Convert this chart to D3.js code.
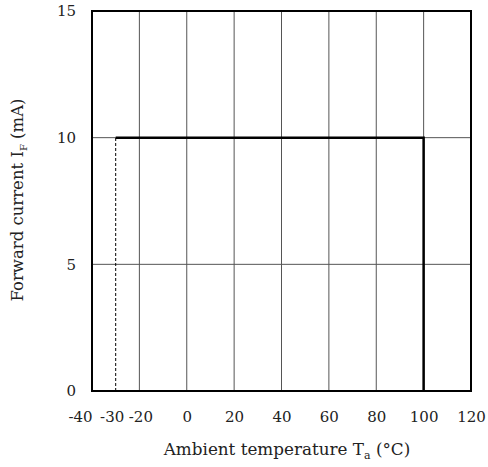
<!DOCTYPE html>
<html><head><meta charset="utf-8">
<script src="https://cdn.jsdelivr.net/npm/d3@7"></script>
<style>body{margin:0;background:#fff}svg{display:block}text{font-family:"DejaVu Serif","Liberation Serif",serif;fill:#222}</style>
</head><body><svg id="c" width="488" height="467"></svg>
<script>
const xTicks = [-40, -30, -20, 0, 20, 40, 60, 80, 100, 120];
const xGrid = [-20, 0, 20, 40, 60, 80, 100];
const yTicks = [0, 5, 10, 15];
const yGrid = [5, 10];
const ratingT = [-30, 100, 100];
const ratingI = [10, 10, 0];
const dashedT = [-30, -30];
const dashedI = [0, 10];

const svg = d3.select("#c");
const L = 92, R = 471, T = 11, B = 391;
const x = d3.scaleLinear().domain([-40, 120]).range([L, R]);
const y = d3.scaleLinear().domain([0, 15]).range([B, T]);
const FF = "DejaVu Serif";

// grid
svg.append("g").selectAll("line").data(xGrid).join("line")
  .attr("x1", d => x(d)).attr("x2", d => x(d)).attr("y1", T).attr("y2", B)
  .attr("stroke", "#555").attr("stroke-width", 1);
svg.append("g").selectAll("line").data(yGrid).join("line")
  .attr("x1", L).attr("x2", R).attr("y1", d => y(d)).attr("y2", d => y(d))
  .attr("stroke", "#555").attr("stroke-width", 1);

// dashed
const line = d3.line().x(d => x(d[0])).y(d => y(d[1]));
svg.append("path").attr("d", line(dashedT.map((t, i) => [t, dashedI[i]])))
  .attr("fill", "none").attr("stroke", "#000").attr("stroke-width", 1).attr("stroke-dasharray", "3,2");
// rating
svg.append("path").attr("d", line(ratingT.map((t, i) => [t, ratingI[i]])))
  .attr("fill", "none").attr("stroke", "#000").attr("stroke-width", 2.5);

// frame
svg.append("rect").attr("x", L).attr("y", T).attr("width", R - L).attr("height", B - T)
  .attr("fill", "none").attr("stroke", "#000").attr("stroke-width", 2);

const shift = {"-40": -12, "-30": -4, "-20": 1};
const xa = svg.append("g").attr("transform", `translate(0,${B})`)
  .call(d3.axisBottom(x).tickValues(xTicks).tickSize(0).tickPadding(20).tickFormat(d => String(d)));
xa.select(".domain").remove();
xa.selectAll("text").attr("font-size", 15).attr("dx", d => shift[d] || 0)
  .attr("font-family", FF).attr("fill", "#222");

const ya = svg.append("g").attr("transform", `translate(${L},0)`)
  .call(d3.axisLeft(y).tickValues(yTicks).tickSize(0).tickPadding(16));
ya.select(".domain").remove();
ya.selectAll("text").attr("font-size", 15).attr("font-family", FF).attr("fill", "#222");

// titles
const xt = svg.append("text").attr("x", 287).attr("y", 455).attr("text-anchor", "middle").attr("font-size", 16.8);
xt.append("tspan").text("Ambient temperature T");
xt.append("tspan").text("a").attr("font-size", 11).attr("dy", 4);
xt.append("tspan").text(" (°C)").attr("dy", -4);

const yt = svg.append("text").attr("transform", "translate(23,200) rotate(-90)").attr("text-anchor", "middle").attr("font-size", 16.5);
yt.append("tspan").text("Forward current I");
yt.append("tspan").text("F").attr("font-size", 10).attr("dy", 4);
yt.append("tspan").text(" (mA)").attr("dy", -4);
</script></body></html>
